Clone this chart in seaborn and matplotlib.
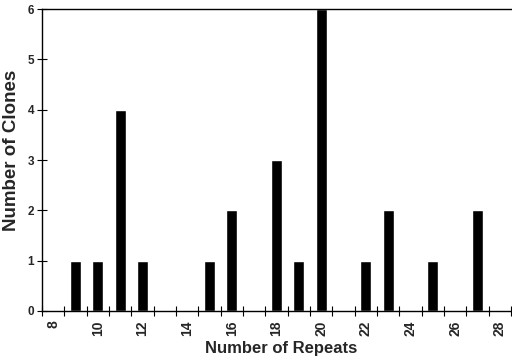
import matplotlib
matplotlib.use('Agg')
import matplotlib.pyplot as plt
import seaborn as sns
import pandas as pd

sns.set_style('ticks')
plt.rcParams['font.family'] = ['Liberation Sans', 'DejaVu Sans']

# counts
repeats = [9, 10, 11, 12, 15, 16, 18, 19, 20, 22, 23, 25, 27]
clones = [1, 1, 4, 1, 1, 2, 3, 1, 6, 1, 2, 1, 2]
categories = list(range(8, 29))
tick_labels = [str(c) if c % 2 == 0 else '' for c in categories]

df = pd.DataFrame({'repeats': repeats, 'clones': clones})

fig = plt.figure(figsize=(5.12, 3.62), dpi=100)
ax = fig.add_axes([0.082, 0.141, 0.916, 0.834])
sns.barplot(data=df, x='repeats', y='clones', order=categories,
            color='black', width=0.48, saturation=1, ax=ax)

ax.set_xlim(-0.5, len(categories) - 0.5)
ax.set_ylim(0, 6)
ax.set_yticks(range(0, 7))
ax.set_xticks(range(len(categories)))
ax.set_xticklabels(tick_labels, rotation=90, fontsize=10, fontweight='bold')
ax.set_xticks([i - 0.5 for i in range(len(categories) + 1)], minor=True)
ax.tick_params(axis='x', which='major', bottom=True, length=0, pad=7)
ax.tick_params(axis='x', which='minor', bottom=True, length=7,
               direction='inout', width=0.8, color='black')
ax.tick_params(axis='y', which='major', left=True, length=7,
               direction='inout', width=0.8, color='black', pad=2,
               labelsize=8.5)
ax.tick_params(axis='y', which='minor', left=False)
for lab in ax.get_yticklabels():
    lab.set_fontweight('bold')

for s in ['left', 'bottom', 'top']:
    ax.spines[s].set_visible(True)
    ax.spines[s].set_color('black')
    ax.spines[s].set_linewidth(1.0)
ax.spines['right'].set_visible(False)

ax.set_xlabel('Number of Repeats', fontsize=12, fontweight='bold')
ax.xaxis.set_label_coords(0.51, -0.099)
ax.set_ylabel('Number of Clones', fontsize=13.5, fontweight='bold')
ax.yaxis.set_label_coords(-0.047, 0.533)

fig.savefig('out.png', dpi=100)
